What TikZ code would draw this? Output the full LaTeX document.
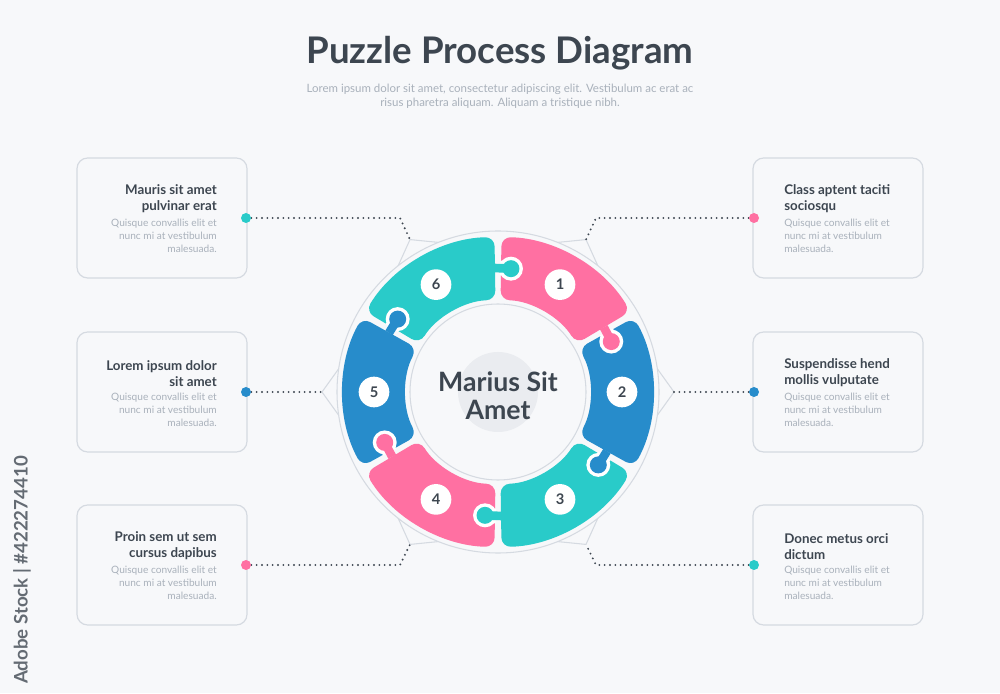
\documentclass[tikz,border=0pt]{standalone}
\usepackage{fontspec}
\setmainfont{Lato}[BoldFont={Lato Black}]
\newfontfamily\latobold{Lato Bold}
\usetikzlibrary{calc}
\definecolor{bg}{HTML}{F7F8FA}
\definecolor{pk}{HTML}{FF70A2}
\definecolor{bl}{HTML}{278CCB}
\definecolor{tl}{HTML}{29CBC9}
\definecolor{dk}{HTML}{3D4650}
\definecolor{gt}{HTML}{A9B1BB}
\definecolor{bd}{HTML}{D5DAE1}
\tikzset{
  box/.style={draw=bd, line width=0.9pt, fill=bg, rounded corners=8pt, minimum width=127.5pt, minimum height=90pt},
  ttl/.style={font=\latobold\fontsize{10}{12.2}\selectfont, text=dk},
  bdy/.style={font=\fontsize{7.6}{9.8}\selectfont, text=gt},
  lead/.style={dk, line width=1.6pt, dash pattern=on 0pt off 4pt, line cap=round},
  num/.style={circle, fill=white, minimum size=23pt, inner sep=0pt, font=\latobold\fontsize{11}{11}\selectfont, text=dk},
}
\begin{document}
\begin{tikzpicture}[x=0.75pt,y=0.75pt]
\fill[bg] (0,0) rectangle (1000,693);
\useasboundingbox (0,0) rectangle (1000,693);
\coordinate (C) at (498,301);
% title
\node[font=\latobold\fontsize{27.5}{30}\selectfont, text=dk] (title) at (500,640) {Puzzle Process Diagram};
\node[font=\fontsize{8.6}{10.6}\selectfont, text=gt, align=center] (sub) at (500,597) {Lorem ipsum dolor sit amet, consectetur adipiscing elit. Vestibulum ac erat ac\\risus pharetra aliquam. Aliquam a tristique nibh.};
% outer frame
\foreach \a in {0,60,120,180,240,300}{
  \filldraw[draw=bd, fill=bg, line width=0.8pt] ($(C)+(\a-9:160)$) -- ($(C)+(\a:176)$) -- ($(C)+(\a+9:160)$);
}
\draw[bd, line width=0.8pt, fill=bg] (C) circle[radius=161];
\draw[bd, line width=0.8pt, fill=bg] (C) circle[radius=88];
\fill[bd!50] (C) circle[radius=40];
% pieces
\foreach \s/\e/\c in {90/30/pk,30/-30/bl,-30/-90/tl,-90/-150/pk,-150/-210/bl,150/90/tl}{
  \fill[\c, rounded corners=7pt] ($(C)+(\s-1.3:155)$) arc[start angle=\s-1.3, end angle=\e+1.3, radius=155]
     -- ($(C)+(\e+1.6:92)$) arc[start angle=\e+1.6, end angle=\s-1.6, radius=92] -- cycle;
}
% knobs
\foreach \b/\c in {30/pk,-30/bl,-90/tl,-150/pk,150/bl,90/tl}{
  \fill[white] ($(C)+(\b-6:124)$) circle[radius=12];
  \draw[white, line width=11pt] ($(C)+(\b-1:124)$) -- ($(C)+(\b-5:124)$);
  \draw[\c, line width=6.5pt] ($(C)+(\b+1.5:124)$) -- ($(C)+(\b-5:124)$);
  \fill[\c] ($(C)+(\b-6:124)$) circle[radius=8.5];
}
% numbers
\foreach \a/\n in {60/1,0/2,-60/3,-120/4,180/5,120/6}{
  \node[num] (n\n) at ($(C)+(\a:124)$) {\n};
}
\node[font=\latobold\fontsize{20}{21}\selectfont, text=dk, align=center] (center) at (498,297) {Marius Sit\\Amet};
% tips
\foreach \a/\t in {0/r2,60/r1,120/l1,180/l2,240/l3,300/r3}{\coordinate (t\t) at ($(C)+(\a:176)$);}
% boxes
\node[box] (b1) at (162,475) {}; \node[box] (b2) at (162,301) {}; \node[box] (b3) at (162,128) {};
\node[box] (b4) at (838,475) {}; \node[box] (b5) at (838,301) {}; \node[box] (b6) at (838,128) {};
% left texts
\foreach \b/\y/\tt in {b1/475/{Mauris sit amet\\pulvinar erat},b2/301/{Lorem ipsum dolor\\sit amet},b3/128/{Proin sem ut sem\\cursus dapibus}}{
  \node[ttl, align=right, anchor=south east, inner sep=0pt] (\b t) at (217,\y+5) {\tt};
  \node[bdy, align=right, anchor=north east, inner sep=0pt] (\b d) at (217,\y-1) {Quisque convallis elit et\\nunc mi at vestibulum\\malesuada.};
}
\foreach \b/\y/\tt in {b4/475/{Class aptent taciti\\sociosqu},b5/301/{Suspendisse hend\\mollis vulputate},b6/128/{Donec metus orci\\dictum}}{
  \node[ttl, align=left, anchor=south west, inner sep=0pt] (\b t) at (784,\y+5) {\tt};
  \node[bdy, align=left, anchor=north west, inner sep=0pt] (\b d) at (784,\y-1) {Quisque convallis elit et\\nunc mi at vestibulum\\malesuada.};
}
% dots and leaders
\coordinate (d1) at (246,475); \coordinate (d2) at (246,301); \coordinate (d3) at (246,128);
\coordinate (d4) at (754,475); \coordinate (d5) at (754,301); \coordinate (d6) at (754,128);
\draw[lead] (d1) -- (400,475) -- (tl1);
\draw[lead] (d2) -- (tl2);
\draw[lead] (d3) -- (400,128) -- (tl3);
\draw[lead] (d4) -- (596,475) -- (tr1);
\draw[lead] (d5) -- (tr2);
\draw[lead] (d6) -- (596,128) -- (tr3);
\fill[tl] (d1) circle[radius=5]; \fill[bl] (d2) circle[radius=5]; \fill[pk] (d3) circle[radius=5];
\fill[pk] (d4) circle[radius=5]; \fill[bl] (d5) circle[radius=5]; \fill[tl] (d6) circle[radius=5];
% watermark text
\node[rotate=90, font=\latobold\fontsize{14}{14}\selectfont, text=dk!80] (wm) at (22,123) {Adobe Stock | \#422274410};
\end{tikzpicture}
\end{document}
